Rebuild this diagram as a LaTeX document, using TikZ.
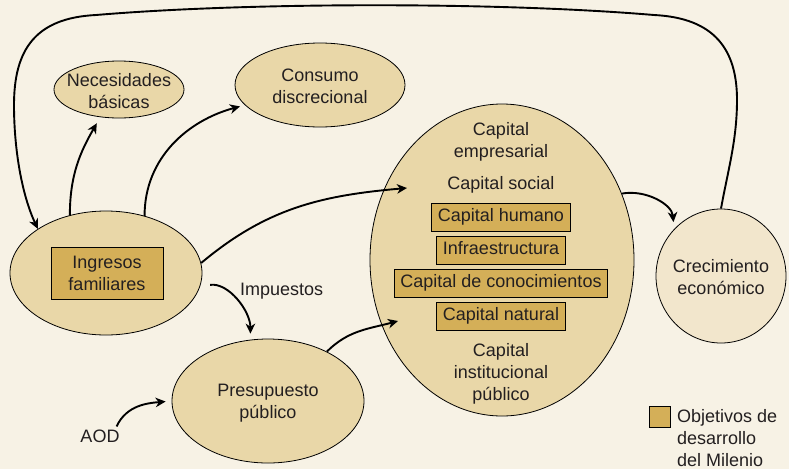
\documentclass[tikz,border=0pt]{standalone}
\usepackage{fontspec}
\setmainfont{Liberation Sans}
\usetikzlibrary{shapes.geometric,arrows.meta}
\definecolor{bgc}{RGB}{247,242,229}
\definecolor{ellc}{RGB}{233,215,168}
\definecolor{crecc}{RGB}{242,230,204}
\definecolor{boxc}{RGB}{212,175,88}
\definecolor{txtc}{RGB}{35,31,32}
\begin{document}
\begin{tikzpicture}[x=1pt,y=1pt,
    every node/.style={font=\fontsize{18}{22}\selectfont, text=txtc},
    ell/.style={ellipse, draw=black, line width=0.8pt, fill=ellc, inner sep=0pt},
    txt/.style={align=center, inner sep=1pt},
    odm/.style={draw=black, line width=1pt, fill=boxc, inner xsep=6pt, inner ysep=0pt,
      minimum height=28pt, text height=13pt, text depth=4pt},
    flow/.style={-{Stealth[length=10pt,width=9.5pt,inset=3pt]}, line width=1.9pt}]
  \fill[bgc] (0,0) rectangle (789,-469);
  \useasboundingbox (0,0) rectangle (789,-469);

  \node[ell, minimum width=130pt, minimum height=57pt] (nec) at (119,-89.5) {};
  \node[txt] (nect) at (119,-91) {Necesidades\\básicas};
  \node[ell, minimum width=170pt, minimum height=84pt] (cons) at (320,-85) {};
  \node[txt] (const) at (320,-86) {Consumo\\discrecional};
  \node[ell, minimum width=192pt, minimum height=124pt] (ingr) at (106,-273) {};
  \node[draw=black, line width=1pt, fill=boxc, align=center, minimum width=112pt,
    minimum height=52pt, inner sep=0pt] (ingrbox) at (107,-273) {Ingresos\\familiares};
  \node[ell, minimum width=192pt, minimum height=124pt] (pres) at (268,-401) {};
  \node[txt] (prest) at (268,-403) {Presupuesto\\público};
  \node[ell, fill=crecc, minimum width=130pt, minimum height=134pt] (crec) at (721,-276) {};
  \node[txt] (crect) at (721,-277) {Crecimiento\\económico};
  \node[ell, minimum width=264pt, minimum height=312pt] (cap) at (502,-260) {};

  \node[txt] (capemp) at (501,-142) {Capital\\empresarial};
  \node[txt] (capsoc) at (501,-185) {Capital social};
  \node[odm] (caphum) at (501,-217) {Capital humano};
  \node[odm] (infra) at (501,-250) {Infraestructura};
  \node[odm] (capcon) at (501,-283) {Capital de conocimientos};
  \node[odm] (capnat) at (501,-316) {Capital natural};
  \node[txt] (capinst) at (501,-374) {Capital\\institucional\\público};

  \node[inner sep=3pt] (aod) at (100,-436) {AOD};
  \node[anchor=west, inner sep=0pt] (imp) at (240,-291) {Impuestos};
  \coordinate (insoc) at (407,-188);
  \coordinate (innat) at (398,-321);

  \node[draw=black, line width=1pt, fill=boxc, minimum size=21pt, inner sep=0pt]
    (legbox) at (659.5,-416.5) {};
  \node[anchor=north west, align=left, inner sep=0pt] (legtxt) at (677,-409)
    {Objetivos de\\desarrollo\\del Milenio};

  \begin{scope}[flow]
    \draw (crec.north) .. controls (728,-170) and (737,-140) .. (737,-100)
      .. controls (737,-50) and (715,-18) .. (654,-15)
      .. controls (500,-2) and (250,-2) .. (96,-15)
      .. controls (35,-18) and (14,-50) .. (14,-105)
      .. controls (14,-150) and (22,-195) .. (ingr.north west);
    \draw[shorten >=7pt] (ingr.122) to[out=90,in=240] (nec.236);
    \draw[shorten >=5pt] (ingr.56) to[out=90,in=195] (cons.195);
    \draw (ingr.6) to[out=40,in=185] (insoc);
    \draw[shorten <=10pt, shorten >=6pt] (ingr.-8) to[out=8,in=90] (pres.106);
    \draw (pres.40) to[out=45,in=195] (innat);
    \draw[shorten >=6pt] (aod.30) to[out=65,in=185] (pres.west);
    \draw[shorten >=7pt] (cap.29) to[out=10,in=95] (crec.135);
  \end{scope}
\end{tikzpicture}
\end{document}
